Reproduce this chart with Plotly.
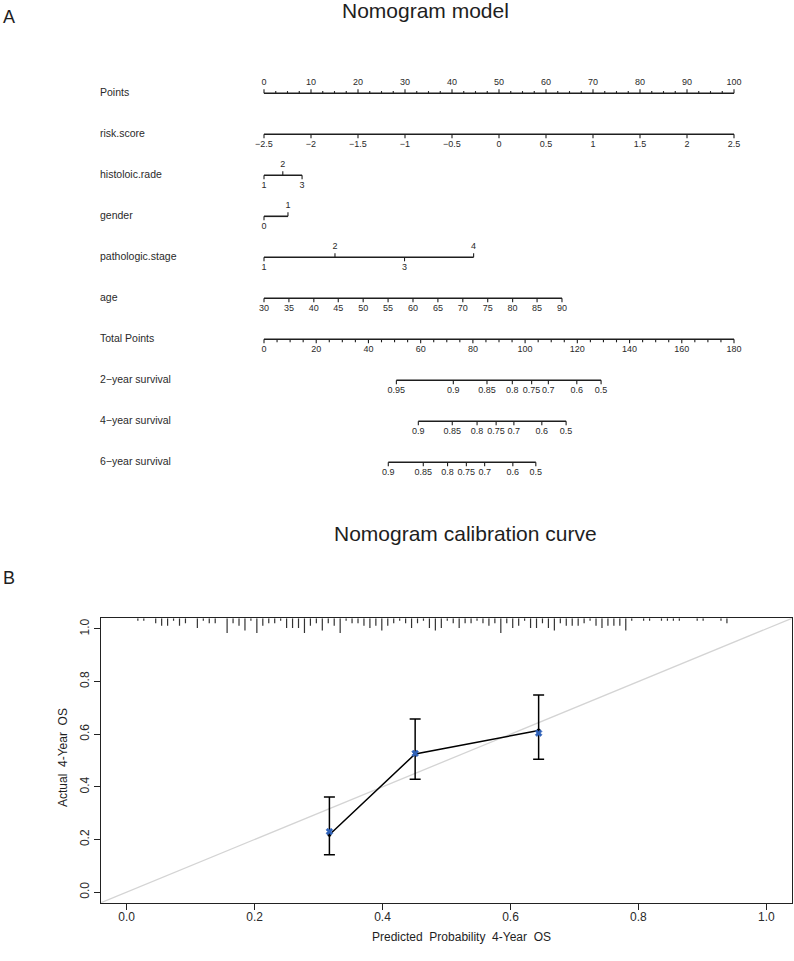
import plotly.graph_objects as go

W, H = 794, 961

# ---------------------------------------------------------------- data: nomogram
ROW_NAMES = ["Points", "risk.score", "histoloic.rade", "gender", "pathologic.stage",
             "age", "Total Points", "2\u2212year survival", "4\u2212year survival",
             "6\u2212year survival"]

POINTS_LABELS = [0, 10, 20, 30, 40, 50, 60, 70, 80, 90, 100]

RISK_LABELS = ["\u22122.5", "\u22122", "\u22121.5", "\u22121", "\u22120.5", "0",
               "0.5", "1", "1.5", "2", "2.5"]
RISK_POINTS = [0, 10, 20, 30, 40, 50, 60, 70, 80, 90, 100]

HIST_LABELS = ["1", "2", "3"]
HIST_POINTS = [0, 4.0, 8.1]

GENDER_LABELS = ["0", "1"]
GENDER_POINTS = [0, 5.1]

STAGE_LABELS = ["1", "2", "3", "4"]
STAGE_POINTS = [0, 15.1, 29.9, 44.6]

AGE_LABELS = ["30", "35", "40", "45", "50", "55", "60", "65", "70", "75", "80", "85", "90"]
AGE_POINTS = [0, 5.3, 10.6, 15.8, 21.1, 26.4, 31.7, 37.0, 42.3, 47.6, 52.9, 58.1, 63.4]

TOTAL_LABELS = [0, 20, 40, 60, 80, 100, 120, 140, 160, 180]

SURV2_LABELS = ["0.95", "0.9", "0.85", "0.8", "0.75", "0.7", "0.6", "0.5"]
SURV2_TOTAL = [50.7, 72.5, 85.4, 95.1, 102.5, 108.9, 119.8, 129.1]

SURV4_LABELS = ["0.9", "0.85", "0.8", "0.75", "0.7", "0.6", "0.5"]
SURV4_TOTAL = [59.1, 72.1, 81.6, 88.9, 95.7, 106.4, 115.7]

SURV6_LABELS = ["0.9", "0.85", "0.8", "0.75", "0.7", "0.6", "0.5"]
SURV6_TOTAL = [47.6, 61.0, 70.3, 77.5, 84.5, 95.3, 104.1]

# ---------------------------------------------------------------- data: calibration
PRED = [0.317, 0.451, 0.644]
OBSERVED = [0.218, 0.525, 0.614]
OBS_LOWER = [0.142, 0.429, 0.505]
OBS_UPPER = [0.361, 0.658, 0.749]
CORRECTED = [0.230, 0.527, 0.604]

CAL_TICKS = [0.0, 0.2, 0.4, 0.6, 0.8, 1.0]

# distribution of predicted probabilities (spikes hanging from top of frame)
SPIKE_PRED = [0.0176, 0.0269, 0.0455, 0.0548, 0.0641, 0.0734, 0.0827, 0.0920,
              0.1106, 0.1199, 0.1292, 0.1385, 0.1571, 0.1664, 0.1757, 0.1850,
              0.1943, 0.2036, 0.2129, 0.2222, 0.2315, 0.2408, 0.2501, 0.2594,
              0.2687, 0.2780, 0.2873, 0.2966, 0.3059, 0.3152, 0.3245, 0.3338,
              0.3431, 0.3524, 0.3617, 0.3710, 0.3803, 0.3896, 0.3989, 0.4082,
              0.4175, 0.4268, 0.4361, 0.4454, 0.4547, 0.4640, 0.4733, 0.4826,
              0.4919, 0.5012, 0.5105, 0.5198, 0.5291, 0.5384, 0.5477, 0.5570,
              0.5663, 0.5756, 0.5849, 0.5942, 0.6035, 0.6128, 0.6221, 0.6314,
              0.6407, 0.6500, 0.6593, 0.6686, 0.6779, 0.6872, 0.6965, 0.7058,
              0.7151, 0.7244, 0.7337, 0.7430, 0.7523, 0.7616, 0.7709, 0.7802,
              0.7895, 0.8081, 0.8174, 0.8360, 0.8453, 0.8546, 0.8639, 0.8918,
              0.9011, 0.9290, 0.9383]
SPIKE_COUNT = [1, 1, 2, 3, 3, 1, 3, 2,
               4, 1, 2, 2, 6, 2, 3, 5,
               1, 6, 3, 2, 2, 1, 4, 4,
               4, 6, 3, 2, 5, 2, 3, 6,
               1, 2, 2, 3, 4, 3, 5, 3,
               2, 1, 2, 4, 2, 1, 4, 5,
               4, 1, 2, 4, 2, 2, 1, 2,
               3, 2, 6, 2, 4, 3, 1, 4,
               4, 2, 4, 5, 2, 3, 3, 3,
               2, 1, 3, 4, 3, 3, 3, 5,
               1, 1, 1, 1, 1, 1, 1, 1,
               1, 1, 2]

# ---------------------------------------------------------------- layout / style
FONT = "Liberation Sans, Arial, Helvetica, sans-serif"
INK = "#1e1e1e"
NOMO_X0_PX, NOMO_X1_PX = 264, 734         # pixel span of points 0..100
ROW_PX0, ROW_STEP_PX = 93.3, 41.0        # first row pixel y, spacing
NOMO_BOTTOM_PX = 520
LABEL_X_PX = 100
LABEL_OFF_PX = 10.5
TICK_PX, MINOR_TICK_PX = 4.0, 2.2

HIST_SIDE = ["below", "above", "below"]
GENDER_SIDE = ["below", "above"]
STAGE_SIDE = ["below", "above", "below", "above"]

CAL_LEFT_PX, CAL_RIGHT_PX = 101, 792
CAL_TOP_PX, CAL_BOTTOM_PX = 618.3, 902.7
CAL_RANGE = [-0.04, 1.04]
SPIKE_UNIT = 0.0093

px_per_pt = (NOMO_X1_PX - NOMO_X0_PX) / 100.0
total_scale = 100.0 / TOTAL_LABELS[-1]


def rows(px):
    return px / ROW_STEP_PX


line_x, line_y = [], []
tick_x, tick_y = [], []
txt_x, txt_y, txt_s = [], [], []


def seg(xs, ys, x0, y0, x1, y1):
    xs.extend([x0, x1, None])
    ys.extend([y0, y1, None])


def row_axis(row, xs, labels, sides, tick_px=TICK_PX):
    seg(line_x, line_y, min(xs), row, max(xs), row)
    for x, lab, side in zip(xs, labels, sides):
        d = -1 if side == "above" else 1
        seg(tick_x, tick_y, x, row, x, row + d * rows(tick_px))
        txt_x.append(x)
        txt_y.append(row + d * rows(LABEL_OFF_PX))
        txt_s.append(lab)


# Points (row 0): labels above, minor ticks every 2.5
row_axis(0, POINTS_LABELS, [str(v) for v in POINTS_LABELS], ["above"] * len(POINTS_LABELS))
for i in range(41):
    v = i * 2.5
    if v not in POINTS_LABELS:
        seg(tick_x, tick_y, v, 0, v, -rows(MINOR_TICK_PX))

row_axis(1, RISK_POINTS, RISK_LABELS, ["below"] * len(RISK_POINTS))
row_axis(2, HIST_POINTS, HIST_LABELS, HIST_SIDE)
row_axis(3, GENDER_POINTS, GENDER_LABELS, GENDER_SIDE)
row_axis(4, STAGE_POINTS, STAGE_LABELS, STAGE_SIDE)
row_axis(5, AGE_POINTS, AGE_LABELS, ["below"] * len(AGE_POINTS))

# Total points (row 6): minor ticks every 5
row_axis(6, [t * total_scale for t in TOTAL_LABELS], [str(t) for t in TOTAL_LABELS],
         ["below"] * len(TOTAL_LABELS))
for i in range(37):
    t = i * 5
    if t not in TOTAL_LABELS:
        seg(tick_x, tick_y, t * total_scale, 6, t * total_scale, 6 + rows(MINOR_TICK_PX + 0.8))

for r, (labs, tots) in enumerate([(SURV2_LABELS, SURV2_TOTAL),
                                  (SURV4_LABELS, SURV4_TOTAL),
                                  (SURV6_LABELS, SURV6_TOTAL)]):
    row_axis(7 + r, [t * total_scale for t in tots], labs, ["below"] * len(labs))

fig = go.Figure()

fig.add_trace(go.Scatter(x=line_x, y=line_y, mode="lines", xaxis="x", yaxis="y",
                         line=dict(color=INK, width=1.6), hoverinfo="skip"))
fig.add_trace(go.Scatter(x=tick_x, y=tick_y, mode="lines", xaxis="x", yaxis="y",
                         line=dict(color=INK, width=1.1), hoverinfo="skip"))
fig.add_trace(go.Scatter(x=txt_x, y=txt_y, text=txt_s, mode="text", xaxis="x", yaxis="y",
                         textposition="middle center",
                         textfont=dict(family=FONT, size=9, color="#2a2a2a"),
                         hoverinfo="skip"))
label_x = (LABEL_X_PX - NOMO_X0_PX) / px_per_pt
fig.add_trace(go.Scatter(x=[label_x] * len(ROW_NAMES), y=list(range(len(ROW_NAMES))),
                         text=ROW_NAMES, mode="text", xaxis="x", yaxis="y",
                         textposition="middle right",
                         textfont=dict(family=FONT, size=10.5, color="#2a2a2a"),
                         hoverinfo="skip"))

# ---------------------------------------------------------------- calibration panel
fig.add_trace(go.Scatter(x=CAL_RANGE, y=CAL_RANGE, mode="lines", xaxis="x2", yaxis="y2",
                         line=dict(color="#d4d4d4", width=1.3), hoverinfo="skip"))

sx, sy = [], []
for p, c in zip(SPIKE_PRED, SPIKE_COUNT):
    seg(sx, sy, p, CAL_RANGE[1], p, CAL_RANGE[1] - c * SPIKE_UNIT)
fig.add_trace(go.Scatter(x=sx, y=sy, mode="lines", xaxis="x2", yaxis="y2",
                         line=dict(color="#333333", width=1.2), hoverinfo="skip"))

fig.add_trace(go.Scatter(
    x=PRED, y=OBSERVED, mode="lines+markers", xaxis="x2", yaxis="y2",
    line=dict(color="black", width=1.5),
    marker=dict(color="black", size=4),
    error_y=dict(type="data", symmetric=False,
                 array=[u - o for u, o in zip(OBS_UPPER, OBSERVED)],
                 arrayminus=[o - l for o, l in zip(OBSERVED, OBS_LOWER)],
                 color="black", thickness=1.5, width=5.5)))
fig.add_trace(go.Scatter(x=PRED, y=CORRECTED, mode="markers", xaxis="x2", yaxis="y2",
                         marker=dict(symbol="x", color="#2f62b8", size=6,
                                     line=dict(width=0.6, color="#2f62b8"))))

axis_common = dict(range=CAL_RANGE, showgrid=False, zeroline=False, showline=True,
                   mirror=True, linecolor="#222222", linewidth=1, ticks="outside",
                   ticklen=6, tickwidth=1, tickcolor="#222222",
                   tickvals=CAL_TICKS, ticktext=["%.1f" % v for v in CAL_TICKS],
                   tickfont=dict(family=FONT, size=12, color="#2a2a2a"))

fig.update_layout(
    width=W, height=H, margin=dict(l=0, r=0, t=0, b=0),
    paper_bgcolor="white", plot_bgcolor="white", showlegend=False,
    xaxis=dict(domain=[0, 1], range=[-NOMO_X0_PX / px_per_pt, (W - NOMO_X0_PX) / px_per_pt],
               visible=False, fixedrange=True),
    yaxis=dict(domain=[1 - NOMO_BOTTOM_PX / H, 1],
               range=[(NOMO_BOTTOM_PX - ROW_PX0) / ROW_STEP_PX, -ROW_PX0 / ROW_STEP_PX],
               visible=False, fixedrange=True),
    xaxis2=dict(domain=[CAL_LEFT_PX / W, CAL_RIGHT_PX / W], anchor="y2",
                ticklabelstandoff=-3, **axis_common),
    yaxis2=dict(domain=[1 - CAL_BOTTOM_PX / H, 1 - CAL_TOP_PX / H], anchor="x2",
                tickangle=-90, **axis_common),
)


def ann(text, xpx, ypx, size, angle=0):
    fig.add_annotation(text=text, x=xpx / W, y=1 - ypx / H, xref="paper", yref="paper",
                       xanchor="center", yanchor="middle", showarrow=False, textangle=angle,
                       font=dict(family=FONT, size=size, color="#1e1e1e"))


ann("A", 9, 17, 18)
ann("Nomogram model", 425, 10, 21)
ann("B", 9, 578, 18)
ann("Nomogram calibration curve", 466, 533, 21)
ann("Predicted  Probability  4-Year  OS", 461, 937, 12)
ann("Actual  4-Year  OS", 63, 758, 12, angle=-90)

fig.write_html("out.html", config={"displayModeBar": False},
               post_script="document.body.style.margin='0px';"
                           "document.body.style.padding='0px';")
